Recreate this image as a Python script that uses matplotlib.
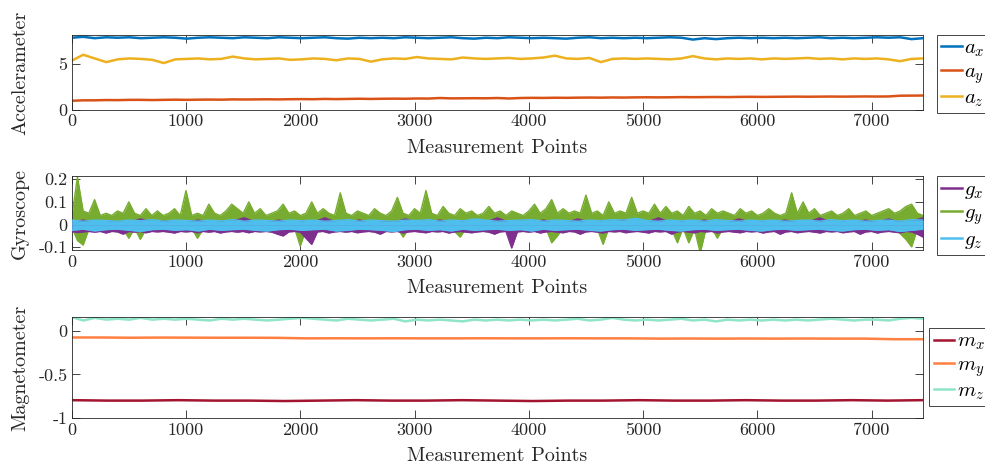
import numpy as np
import matplotlib
matplotlib.use('Agg')
import matplotlib.pyplot as plt

plt.rcParams['font.family'] = 'cmr10'
plt.rcParams['mathtext.fontset'] = 'cm'
plt.rcParams['axes.unicode_minus'] = False

# %% data
n_points = 7450
x_ticks = [0, 1000, 2000, 3000, 4000, 5000, 6000, 7000]
x_tick_labels = ['0', '1000', '2000', '3000', '4000', '5000', '6000', '7000']

# accelerometer
acc_x = [7.85, 7.95, 7.8, 7.9, 7.85, 7.9, 7.8, 7.85, 7.9, 7.85,
         7.75, 7.85, 7.9, 7.85, 7.8, 7.9, 7.85, 7.8, 7.9, 7.85,
         7.8, 7.85, 7.9, 7.8, 7.75, 7.85, 7.8, 7.85, 7.8, 7.9,
         7.85, 7.8, 7.85, 7.9, 7.8, 7.75, 7.85, 7.8, 7.9, 7.85,
         7.8, 7.85, 7.8, 7.75, 7.85, 7.9, 7.8, 7.85, 7.8, 7.85,
         7.8, 7.85, 7.9, 7.85, 7.65, 7.8, 7.7, 7.8, 7.85, 7.8,
         7.85, 7.8, 7.85, 7.8, 7.85, 7.9, 7.8, 7.85, 7.8, 7.85,
         7.9, 7.85, 7.9, 7.7, 7.8]
acc_y = [1.0, 1.05, 1.05, 1.08, 1.07, 1.1, 1.1, 1.08, 1.1, 1.12,
         1.1, 1.12, 1.13, 1.12, 1.15, 1.14, 1.15, 1.16, 1.15, 1.17,
         1.18, 1.17, 1.2, 1.18, 1.2, 1.22, 1.2, 1.22, 1.23, 1.22,
         1.25, 1.24, 1.3, 1.26, 1.27, 1.28, 1.27, 1.3, 1.25, 1.3,
         1.32, 1.31, 1.33, 1.32, 1.34, 1.35, 1.34, 1.36, 1.35, 1.37,
         1.38, 1.37, 1.38, 1.4, 1.39, 1.4, 1.41, 1.4, 1.42, 1.43,
         1.42, 1.43, 1.44, 1.45, 1.44, 1.45, 1.46, 1.45, 1.46, 1.47,
         1.46, 1.47, 1.55, 1.56, 1.57]
acc_z = [5.35, 6.0, 5.6, 5.2, 5.5, 5.6, 5.55, 5.45, 5.1, 5.5,
         5.55, 5.6, 5.5, 5.55, 5.8, 5.6, 5.5, 5.55, 5.6, 5.45,
         5.5, 5.6, 5.55, 5.4, 5.6, 5.55, 5.25, 5.5, 5.6, 5.55,
         5.75, 5.6, 5.55, 5.5, 5.7, 5.6, 5.55, 5.6, 5.65, 5.55,
         5.6, 5.7, 5.9, 5.6, 5.55, 5.65, 5.2, 5.55, 5.6, 5.55,
         5.6, 5.55, 5.5, 5.6, 5.85, 5.6, 5.5, 5.6, 5.55, 5.6,
         5.5, 5.6, 5.55, 5.6, 5.65, 5.55, 5.6, 5.5, 5.6, 5.55,
         5.6, 5.5, 5.3, 5.55, 5.6]
acc_yticks = [0, 5]
acc_yticklabels = ['0', '5']

# gyroscope: upper / lower envelope of each trace
gyr_y_hi = [0.03, 0.21, 0.06, 0.05, 0.11, 0.04, 0.05, 0.04, 0.06, 0.05,
            0.10, 0.05, 0.04, 0.07, 0.04, 0.06, 0.04, 0.05, 0.07, 0.04,
            0.15, 0.04, 0.05, 0.04, 0.09, 0.05, 0.04, 0.06, 0.09, 0.07,
            0.05, 0.10, 0.05, 0.07, 0.04, 0.05, 0.06, 0.09, 0.05, 0.06,
            0.04, 0.05, 0.10, 0.05, 0.07, 0.05, 0.04, 0.14, 0.05, 0.04,
            0.06, 0.05, 0.04, 0.07, 0.05, 0.04, 0.06, 0.12, 0.05, 0.04,
            0.07, 0.05, 0.15, 0.05, 0.04, 0.08, 0.05, 0.04, 0.07, 0.05,
            0.06, 0.04, 0.05, 0.08, 0.05, 0.06, 0.04, 0.06, 0.05, 0.04,
            0.06, 0.09, 0.05, 0.07, 0.11, 0.05, 0.07, 0.05, 0.06, 0.05,
            0.13, 0.05, 0.06, 0.04, 0.10, 0.05, 0.06, 0.05, 0.12, 0.05,
            0.06, 0.05, 0.09, 0.05, 0.08, 0.05, 0.06, 0.04, 0.08, 0.05,
            0.06, 0.04, 0.07, 0.05, 0.06, 0.05, 0.04, 0.07, 0.05, 0.06,
            0.04, 0.05, 0.07, 0.05, 0.04, 0.05, 0.14, 0.05, 0.10, 0.05,
            0.07, 0.04, 0.05, 0.06, 0.04, 0.05, 0.07, 0.04, 0.05, 0.06,
            0.04, 0.05, 0.06, 0.07, 0.05, 0.06, 0.08, 0.09, 0.05, 0.04]
gyr_y_lo = [-0.01, -0.07, -0.09, -0.02, -0.03, -0.015, -0.02, -0.015, -0.03, -0.02,
            -0.06, -0.015, -0.065, -0.02, -0.015, -0.03, -0.015, -0.02, -0.015, -0.02,
            -0.03, -0.015, -0.06, -0.02, -0.015, -0.02, -0.03, -0.015, -0.02, -0.015,
            -0.02, -0.03, -0.015, -0.02, -0.015, -0.03, -0.02, -0.015, -0.02, -0.015,
            -0.095, -0.02, -0.015, -0.02, -0.03, -0.015, -0.02, -0.015, -0.02, -0.03,
            -0.015, -0.02, -0.015, -0.02, -0.015, -0.03, -0.02, -0.015, -0.055, -0.015,
            -0.02, -0.015, -0.03, -0.02, -0.015, -0.02, -0.015, -0.03, -0.055, -0.015,
            -0.02, -0.015, -0.02, -0.03, -0.015, -0.02, -0.015, -0.02, -0.015, -0.02,
            -0.015, -0.03, -0.02, -0.015, -0.08, -0.05, -0.015, -0.02, -0.03, -0.015,
            -0.02, -0.015, -0.02, -0.087, -0.015, -0.02, -0.03, -0.015, -0.02, -0.015,
            -0.02, -0.015, -0.03, -0.02, -0.015, -0.02, -0.08, -0.015, -0.08, -0.02,
            -0.125, -0.02, -0.015, -0.06, -0.015, -0.02, -0.03, -0.015, -0.02, -0.015,
            -0.02, -0.015, -0.03, -0.02, -0.015, -0.02, -0.015, -0.03, -0.02, -0.015,
            -0.02, -0.015, -0.03, -0.02, -0.015, -0.02, -0.015, -0.03, -0.02, -0.015,
            -0.02, -0.015, -0.03, -0.02, -0.015, -0.04, -0.065, -0.098, -0.02, -0.05]
gyr_x_hi = [0.01, 0.02, 0.01, 0.015, 0.01, 0.01, 0.025, 0.01, 0.015, 0.01,
            0.01, 0.02, 0.01, 0.01, 0.015, 0.03, 0.01, 0.01, 0.02, 0.01,
            0.015, 0.01, 0.03, 0.01, 0.01, 0.02, 0.01, 0.015, 0.01, 0.025,
            0.01, 0.01, 0.02, 0.01, 0.015, 0.01, 0.01, 0.03, 0.01, 0.015,
            0.01, 0.02, 0.01, 0.01, 0.025, 0.01, 0.015, 0.01, 0.02, 0.01,
            0.01, 0.03, 0.01, 0.015, 0.01, 0.02, 0.01, 0.01, 0.025, 0.01,
            0.015, 0.01, 0.02, 0.01, 0.01, 0.03, 0.01, 0.015, 0.01, 0.02,
            0.01, 0.025, 0.01, 0.015, 0.03]
gyr_x_lo = [-0.03, -0.035, -0.032, -0.03, -0.033, -0.03, -0.037, -0.03, -0.032, -0.042,
            -0.03, -0.033, -0.03, -0.036, -0.03, -0.032, -0.03, -0.033, -0.037, -0.03,
            -0.032, -0.03, -0.036, -0.03, -0.033, -0.03, -0.037, -0.032, -0.03, -0.033,
            -0.03, -0.036, -0.03, -0.032, -0.03, -0.033, -0.042, -0.05, -0.032, -0.03,
            -0.033, -0.06, -0.087, -0.032, -0.03, -0.037, -0.032, -0.03, -0.033, -0.03,
            -0.036, -0.032, -0.03, -0.033, -0.042, -0.03, -0.032, -0.03, -0.037, -0.032,
            -0.03, -0.033, -0.036, -0.03, -0.032, -0.03, -0.037, -0.032, -0.03, -0.033,
            -0.036, -0.032, -0.03, -0.033, -0.042, -0.032, -0.03, -0.103, -0.032, -0.03,
            -0.033, -0.03, -0.037, -0.032, -0.03, -0.033, -0.036, -0.03, -0.032, -0.042,
            -0.032, -0.03, -0.033, -0.037, -0.03, -0.032, -0.03, -0.036, -0.032, -0.03,
            -0.033, -0.037, -0.03, -0.032, -0.03, -0.042, -0.032, -0.03, -0.033, -0.036,
            -0.03, -0.032, -0.03, -0.037, -0.032, -0.03, -0.033, -0.036, -0.03, -0.032,
            -0.03, -0.037, -0.032, -0.03, -0.042, -0.032, -0.03, -0.036, -0.032, -0.03,
            -0.033, -0.037, -0.03, -0.032, -0.03, -0.036, -0.032, -0.03, -0.042, -0.032,
            -0.03, -0.037, -0.032, -0.03, -0.033, -0.036, -0.03, -0.032, -0.042, -0.055]
gyr_z_hi = [0.02, 0.015, 0.02, 0.018, 0.015, 0.02, 0.017, 0.022, 0.015, 0.02,
            0.018, 0.015, 0.02, 0.016, 0.022, 0.015, 0.02, 0.018, 0.015, 0.02,
            0.017, 0.02, 0.015, 0.018, 0.022, 0.015, 0.02, 0.017, 0.015, 0.02,
            0.018, 0.022, 0.015, 0.02, 0.017, 0.025, 0.02, 0.015, 0.018, 0.02,
            0.022, 0.015, 0.02, 0.018, 0.015, 0.02, 0.017, 0.022, 0.02, 0.028,
            0.018, 0.015, 0.02, 0.017, 0.02, 0.015, 0.022, 0.018, 0.015, 0.02,
            0.017, 0.02, 0.015, 0.018, 0.02, 0.015, 0.022, 0.017, 0.02, 0.015,
            0.018, 0.02, 0.015, 0.022, 0.02]
gyr_z_lo = [-0.025, -0.02, -0.028, -0.022, -0.02, -0.025, -0.03, -0.022, -0.02, -0.025,
            -0.022, -0.028, -0.02, -0.025, -0.022, -0.02, -0.025, -0.028, -0.022, -0.02,
            -0.025, -0.022, -0.02, -0.028, -0.025, -0.02, -0.022, -0.025, -0.03, -0.022,
            -0.02, -0.025, -0.022, -0.028, -0.02, -0.025, -0.022, -0.02, -0.025, -0.022,
            -0.028, -0.02, -0.025, -0.022, -0.02, -0.025, -0.028, -0.022, -0.02, -0.025,
            -0.022, -0.02, -0.025, -0.028, -0.022, -0.02, -0.025, -0.022, -0.02, -0.025,
            -0.028, -0.022, -0.02, -0.025, -0.022, -0.02, -0.025, -0.028, -0.022, -0.02,
            -0.025, -0.022, -0.03, -0.025, -0.02]
gyr_yticks = [-0.1, 0, 0.1, 0.2]
gyr_yticklabels = ['-0.1', '0', '0.1', '0.2']

# magnetometer
mag_x = [-0.795, -0.8, -0.8, -0.795, -0.8, -0.8, -0.805, -0.8, -0.795, -0.8,
         -0.8, -0.795, -0.8, -0.805, -0.8, -0.8, -0.795, -0.8, -0.8, -0.795,
         -0.8, -0.8, -0.795, -0.8, -0.795]
mag_y = [-0.075, -0.075, -0.078, -0.076, -0.077, -0.078, -0.078, -0.079, -0.085, -0.084,
         -0.085, -0.084, -0.085, -0.085, -0.084, -0.085, -0.085, -0.084, -0.085, -0.085,
         -0.088, -0.087, -0.088, -0.087, -0.088, -0.087, -0.088, -0.088, -0.095, -0.095]
mag_z = [0.16, 0.12, 0.15, 0.13, 0.14, 0.13, 0.15, 0.13, 0.14, 0.13,
         0.14, 0.13, 0.12, 0.14, 0.13, 0.14, 0.13, 0.12, 0.13, 0.14,
         0.15, 0.14, 0.13, 0.12, 0.14, 0.13, 0.12, 0.13, 0.14, 0.11,
         0.13, 0.12, 0.13, 0.12, 0.11, 0.13, 0.12, 0.13, 0.12, 0.13,
         0.12, 0.13, 0.12, 0.13, 0.14, 0.12, 0.13, 0.15, 0.13, 0.12,
         0.13, 0.12, 0.13, 0.14, 0.12, 0.13, 0.11, 0.13, 0.12, 0.13,
         0.12, 0.13, 0.12, 0.13, 0.12, 0.13, 0.14, 0.13, 0.12, 0.13,
         0.13, 0.12, 0.14, 0.15, 0.14]
mag_yticks = [-1, -0.5, 0]
mag_yticklabels = ['-1', '-0.5', '0']


def idx(series):
    # measurement index of each stored sample, spread over the record
    return np.linspace(0, n_points, len(series))


# %% figure
fig = plt.figure(figsize=(9.85, 4.70), dpi=100)
ax_acc = fig.add_axes([0.0728, 0.766, 0.8643, 0.1596])
ax_gyr = fig.add_axes([0.0728, 0.468, 0.8643, 0.157])
ax_mag = fig.add_axes([0.0728, 0.1106, 0.8643, 0.2149])

ax_acc.plot(idx(acc_x), acc_x, color='#0072BD', lw=1.8, label=r'$a_x$')
ax_acc.plot(idx(acc_y), acc_y, color='#D95319', lw=1.8, label=r'$a_y$')
ax_acc.plot(idx(acc_z), acc_z, color='#EDB120', lw=1.8, label=r'$a_z$')
ax_acc.set_ylim(0, 8.15)


def band(ax, hi, lo, color, z):
    ax.fill_between(idx(hi), 0, hi, color=color, lw=0, zorder=z)
    ax.fill_between(idx(lo), lo, 0, color=color, lw=0, zorder=z)
    ax.plot(idx(hi), hi, color=color, lw=1.0, zorder=z)
    ax.plot(idx(lo), lo, color=color, lw=1.0, zorder=z)


band(ax_gyr, gyr_y_hi, gyr_y_lo, '#77AC30', 2)
band(ax_gyr, gyr_x_hi, gyr_x_lo, '#7E2F8E', 3)
band(ax_gyr, gyr_z_hi, gyr_z_lo, '#4DBEEE', 4)
gyr_handles = [plt.Line2D([], [], color=c, lw=1.8)
               for c in ['#7E2F8E', '#77AC30', '#4DBEEE']]
ax_gyr.set_ylim(-0.112, 0.213)

ax_mag.plot(idx(mag_x), mag_x, color='#A2142F', lw=1.8, label=r'$m_x$')
ax_mag.plot(idx(mag_y), mag_y, color='#FF8040', lw=1.8, label=r'$m_y$')
ax_mag.plot(idx(mag_z), mag_z, color='#8EE5C8', lw=1.8, label=r'$m_z$')
ax_mag.set_ylim(-1, 0.16)

ylabels = ['Accelerameter', 'Gyroscope', 'Magnetometer']
yticks = [(acc_yticks, acc_yticklabels), (gyr_yticks, gyr_yticklabels),
          (mag_yticks, mag_yticklabels)]
for ax, lab, (tk, tl) in zip([ax_acc, ax_gyr, ax_mag], ylabels, yticks):
    ax.set_xlim(0, n_points)
    ax.set_xticks(x_ticks)
    ax.set_xticklabels(x_tick_labels)
    ax.set_yticks(tk)
    ax.set_yticklabels(tl)
    ax.tick_params(direction='in', length=6, width=0.6, top=True, right=True,
                   labelsize=13, colors='#262626', pad=3)
    for s in ax.spines.values():
        s.set_color('#262626')
        s.set_linewidth(0.6)
    ax.set_xlabel('Measurement Points', fontsize=14.5, color='#262626',
                  labelpad=7)
    ax.set_ylabel(lab, fontsize=14.5, color='#262626')
    ax.yaxis.set_label_coords(-0.050, 0.5)

leg_kw = dict(loc='upper left', fontsize=15, frameon=True, fancybox=False,
              edgecolor='#262626', framealpha=1, handlelength=1.0,
              handletextpad=0.1, borderpad=0.2, labelspacing=0.15,
              borderaxespad=0)
l1 = ax_acc.legend(bbox_to_anchor=(1.0165, 1.0), **leg_kw)
l2 = ax_gyr.legend(gyr_handles, [r'$g_x$', r'$g_y$', r'$g_z$'],
                   bbox_to_anchor=(1.0165, 1.0), **leg_kw)
l3 = ax_mag.legend(bbox_to_anchor=(1.0075, 0.89), **leg_kw)
for lg in [l1, l2, l3]:
    lg.get_frame().set_linewidth(0.6)

plt.savefig('out.png', dpi=100)
